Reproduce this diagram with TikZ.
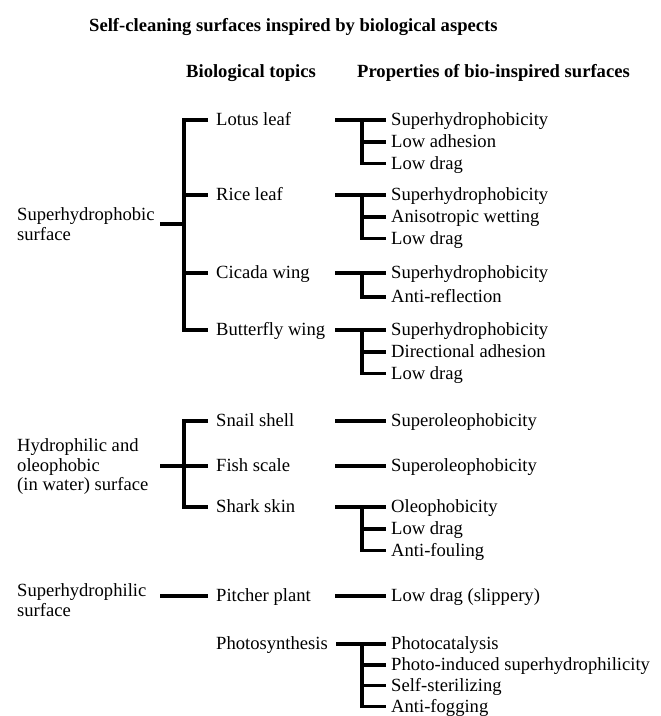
\documentclass[tikz,border=0pt]{standalone}
\usepackage{fontspec}
\setmainfont{Liberation Serif}
\usetikzlibrary{positioning}
\tikzset{
	every node/.style={font=\fontsize{18.6}{19.5}\selectfont, inner sep=3pt},
	heading/.style={font=\fontsize{18.6}{20}\selectfont\bfseries, anchor=west},
	group/.style={anchor=west, align=left},
	topic/.style={anchor=west, inner xsep=8pt, inner ysep=2.25pt, text height=14pt, text depth=3pt},
	prop/.style={anchor=west, inner xsep=5pt, inner ysep=2.25pt, text height=14pt, text depth=3pt},
	nextprop/.style={prop, below=0pt of #1.south west, anchor=north west},
	link/.style={draw, line width=3.2pt}
}

\begin{document}
\begin{tikzpicture}[x=1pt, y=-1pt]
	\useasboundingbox (0,0) rectangle (661,716);
	
	% columns of the connectors
	\coordinate (lx) at (160,0);
	\coordinate (bus) at (184,0);
	\coordinate (jx) at (335,0);
	\coordinate (bx) at (362,0);
	
	\node[heading] (title) at (86,27) {Self-cleaning surfaces inspired by biological aspects};
	\node[heading] (hdtopic) at (183,73) {Biological topics};
	\node[heading] (hdprop) at (354,73) {Properties of bio-inspired surfaces};
	
	% roots
	\node[group] (sphob) at (14,224) {Superhydrophobic\\surface};
	\node[group] (hphil) at (14,467) {Hydrophilic and\\oleophobic\\(in water) surface};
	\node[group] (sphil) at (14,600) {Superhydrophilic\\surface};
	
	% biological topics
	\node[topic] (lotus) at (208,120) {Lotus leaf};
	\node[topic] (rice) at (208,195) {Rice leaf};
	\node[topic] (cicada) at (208,273) {Cicada wing};
	\node[topic] (butterfly) at (208,330) {Butterfly wing};
	\node[topic] (snail) at (208,421) {Snail shell};
	\node[topic] (fish) at (208,466) {Fish scale};
	\node[topic] (shark) at (208,507) {Shark skin};
	\node[topic] (pitcher) at (208,596) {Pitcher plant};
	\node[topic] (photo) at (208,644) {Photosynthesis};
	
	% properties
	\node[prop] (lotus1) at (386,120) {Superhydrophobicity};
	\node[nextprop=lotus1] (lotus2) {Low adhesion};
	\node[nextprop=lotus2] (lotus3) {Low drag};
	
	\node[prop] (rice1) at (386,195) {Superhydrophobicity};
	\node[nextprop=rice1] (rice2) {Anisotropic wetting};
	\node[nextprop=rice2] (rice3) {Low drag};
	
	\node[prop] (cicada1) at (386,273) {Superhydrophobicity};
	\node[nextprop=cicada1, yshift=-2pt] (cicada2) {Anti-reflection};
	
	\node[prop] (butterfly1) at (386,330) {Superhydrophobicity};
	\node[nextprop=butterfly1] (butterfly2) {Directional adhesion};
	\node[nextprop=butterfly2] (butterfly3) {Low drag};
	
	\node[prop] (snail1) at (386,421) {Superoleophobicity};
	\node[prop] (fish1) at (386,466) {Superoleophobicity};
	
	\node[prop] (shark1) at (386,507) {Oleophobicity};
	\node[nextprop=shark1] (shark2) {Low drag};
	\node[nextprop=shark2] (shark3) {Anti-fouling};
	
	\node[prop] (pitcher1) at (386,596) {Low drag (slippery)};
	
	\node[prop] (photo1) at (386,644) {Photocatalysis};
	\node[nextprop=photo1, yshift=1pt] (photo2) {Photo-induced superhydrophilicity};
	\node[nextprop=photo2, yshift=1pt] (photo3) {Self-sterilizing};
	\node[nextprop=photo3, yshift=1pt] (photo4) {Anti-fogging};
	
	% roots to topics
	\draw[link] (sphob.east -| lx) -- (sphob.east -| bus);
	\draw[link] (lotus.west) -- (lotus.west -| bus) -- (butterfly.west -| bus) -- (butterfly.west);
	\draw[link] (rice.west -| bus) -- (rice.west);
	\draw[link] (cicada.west -| bus) -- (cicada.west);
	
	\draw[link] (snail.west) -- (snail.west -| bus) -- (shark.west -| bus) -- (shark.west);
	\draw[link] (fish.west -| lx) -- (fish.west);
	
	\draw[link] (pitcher.west -| lx) -- (pitcher.west);
	
	% topics to properties
	\draw[link] (lotus1.west -| jx) -- (lotus1.west);
	\draw[link] (lotus1.west -| bx) |- (lotus3.west);
	\draw[link] (lotus2.west -| bx) -- (lotus2.west);
	
	\draw[link] (rice1.west -| jx) -- (rice1.west);
	\draw[link] (rice1.west -| bx) |- (rice3.west);
	\draw[link] (rice2.west -| bx) -- (rice2.west);
	
	\draw[link] (cicada1.west -| jx) -- (cicada1.west);
	\draw[link] (cicada1.west -| bx) |- (cicada2.west);
	
	\draw[link] (butterfly1.west -| jx) -- (butterfly1.west);
	\draw[link] (butterfly1.west -| bx) |- (butterfly3.west);
	\draw[link] (butterfly2.west -| bx) -- (butterfly2.west);
	
	\draw[link] (snail1.west -| jx) -- (snail1.west);
	\draw[link] (fish1.west -| jx) -- (fish1.west);
	
	\draw[link] (shark1.west -| jx) -- (shark1.west);
	\draw[link] (shark1.west -| bx) |- (shark3.west);
	\draw[link] (shark2.west -| bx) -- (shark2.west);
	
	\draw[link] (pitcher1.west -| jx) -- (pitcher1.west);
	
	\draw[link] (photo.east) -- (photo1.west);
	\draw[link] (photo1.west -| bx) |- (photo4.west);
	\draw[link] (photo2.west -| bx) -- (photo2.west);
	\draw[link] (photo3.west -| bx) -- (photo3.west);
\end{tikzpicture}
\end{document}
